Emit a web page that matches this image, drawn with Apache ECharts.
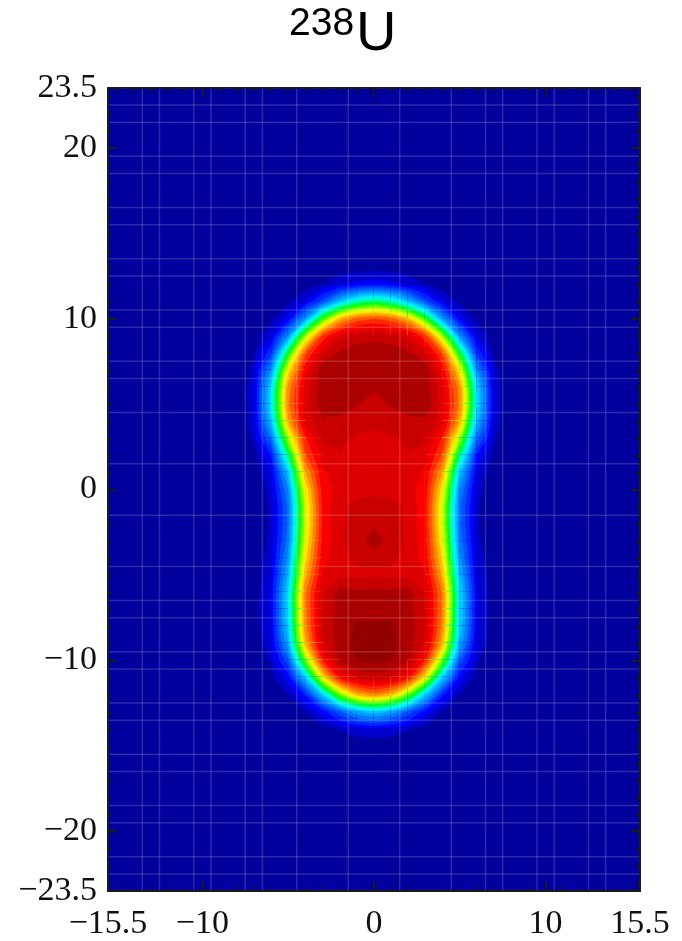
<!DOCTYPE html>
<html>
<head>
<meta charset="utf-8">
<title>238U density</title>
<script src="https://cdn.jsdelivr.net/npm/echarts@6/dist/echarts.min.js"></script>
<style>
  html, body { margin: 0; padding: 0; background: #ffffff; }
  #chart { width: 682px; height: 941px; }
</style>
</head>
<body>
<div id="chart"></div>
<script>
// Density grid (units of 0.01 fm^-3) on a 1 fm mesh. The shape is
// mirror-symmetric in x, so only the columns x >= 0 are tabulated.
const xNodes = [0, 1, 2, 3, 4, 5, 6, 7, 8, 9];
const yNodes = [14, 13, 12, 11, 10, 9, 8, 7, 6, 5, 4, 3, 2, 1, 0, -1, -2, -3, -4, -5,
                -6, -7, -8, -9, -10, -11, -12, -13, -14, -15, -16];
const density = [
  [0.02, 0.02, 0.01, 0, 0, 0, 0, 0, 0, 0],
  [0.15, 0.14, 0.10, 0.05, 0.02, 0, 0, 0, 0, 0],
  [1.3, 1.15, 0.8, 0.42, 0.16, 0.05, 0, 0, 0, 0],
  [7.2, 6.5, 4.7, 2.5, 0.95, 0.28, 0.06, 0.01, 0, 0],
  [13.4, 13.0, 11.5, 8.3, 4.0, 1.2, 0.26, 0.04, 0, 0],
  [16.2, 16.0, 15.4, 13.6, 9.4, 3.8, 0.85, 0.12, 0.01, 0],
  [17.0, 17.0, 16.6, 15.6, 13.2, 7.7, 2.0, 0.3, 0.03, 0],
  [17.0, 17.1, 17.1, 17.0, 14.7, 10.7, 3.8, 0.55, 0.05, 0],
  [16.7, 17.0, 17.2, 16.9, 15.2, 12.2, 5.2, 0.7, 0.06, 0],
  [16.0, 16.55, 16.9, 17.1, 15.3, 12.5, 5.4, 0.7, 0.05, 0],
  [16.0, 16.2, 16.3, 16.3, 15.3, 11.8, 4.7, 0.65, 0.05, 0],
  [15.5, 15.6, 15.9, 15.9, 14.1, 9.6, 3.2, 0.5, 0.04, 0],
  [15.4, 15.5, 15.7, 15.25, 13.3, 7.0, 1.5, 0.22, 0.03, 0],
  [15.4, 15.4, 15.45, 14.8, 11.8, 4.8, 0.85, 0.13, 0.02, 0],
  [15.5, 15.4, 15.3, 14.5, 10.6, 3.6, 0.6, 0.09, 0.01, 0],
  [16.1, 16.0, 15.6, 14.3, 9.95, 3.05, 0.5, 0.07, 0, 0],
  [16.3, 16.0, 15.6, 14.3, 9.95, 3.05, 0.5, 0.07, 0, 0],
  [16.9, 16.1, 15.6, 14.4, 10.3, 3.3, 0.55, 0.08, 0, 0],
  [16.0, 15.9, 15.5, 14.6, 10.95, 3.85, 0.66, 0.1, 0, 0],
  [15.6, 15.6, 15.5, 15.0, 11.6, 4.5, 0.8, 0.12, 0.02, 0],
  [16.7, 16.65, 16.8, 15.6, 12.5, 5.2, 1.0, 0.14, 0.02, 0],
  [16.8, 17.0, 16.8, 15.7, 12.5, 5.2, 1.0, 0.14, 0.02, 0],
  [17.4, 17.35, 16.9, 15.8, 12.3, 5.0, 0.92, 0.13, 0.02, 0],
  [17.6, 17.4, 16.9, 15.6, 11.6, 4.3, 0.78, 0.11, 0.02, 0],
  [17.5, 17.3, 16.6, 14.1, 9.0, 2.7, 0.5, 0.07, 0, 0],
  [16.15, 15.8, 14.4, 10.75, 4.96, 1.26, 0.24, 0.04, 0, 0],
  [12.45, 11.6, 9.0, 4.96, 1.7, 0.43, 0.09, 0.02, 0, 0],
  [4.96, 4.3, 2.74, 1.26, 0.43, 0.11, 0.03, 0, 0, 0],
  [0.85, 0.75, 0.48, 0.23, 0.08, 0.03, 0, 0, 0, 0],
  [0.1, 0.09, 0.06, 0.03, 0.01, 0, 0, 0, 0, 0],
  [0.01, 0.01, 0, 0, 0, 0, 0, 0, 0, 0]
];

// Contour levels and the fill colour of each band (band 0 = below the first level).
const levels = [0.45, 1.0, 1.6, 2.3, 3.0, 3.75, 4.5, 5.25, 6.0, 6.75, 7.5, 8.25,
                9.0, 9.75, 10.5, 11.25, 12.0, 12.75, 13.5, 14.25, 15.0, 15.75, 16.5, 17.25];
const bandColors = ['#00009c', '#0000cc', '#0000ff', '#0028ff', '#0050ff', '#0078ff',
                    '#00a0ff', '#00c8ff', '#00f0ff', '#00ffc0', '#00ff70', '#00ff20',
                    '#40ff00', '#90ff00', '#d8ff00', '#ffe800', '#ffb800', '#ff8800',
                    '#ff5800', '#ff2800', '#f80000', '#de0000', '#c80000', '#aa0000', '#920000'];

// Axis ranges, labelled ticks and faint mesh lines.
const xRange = [-15.5, 15.5];
const yRange = [-23.5, 23.5];
const xLabelValues = [-15.5, -10, 0, 10, 15.5];
const yLabelValues = [-23.5, -20, -10, 0, 10, 20, 23.5];
const xMajorTicks = [-10, 0, 10];
const yMajorTicks = [-20, -10, 0, 10, 20];
const xMinorTicks = [-15, -14, -13, -12, -11, -10, -9, -8, -7, -6, -5, -4, -3, -2, -1, 0,
                     1, 2, 3, 4, 5, 6, 7, 8, 9, 10, 11, 12, 13, 14, 15];
const yMinorTicks = [-23, -22, -21, -20, -19, -18, -17, -16, -15, -14, -13, -12, -11, -10,
                     -9, -8, -7, -6, -5, -4, -3, -2, -1, 0, 1, 2, 3, 4, 5, 6, 7, 8, 9, 10,
                     11, 12, 13, 14, 15, 16, 17, 18, 19, 20, 21, 22, 23];
const xMeshLines = [-13.5, -12.5, -10.5, -9.5, -7.5, -6.5, -4.5, -1.5,
                    1.5, 4.5, 6.5, 7.5, 9.5, 10.5, 12.5, 13.5];
const yMeshLines = [-22.5, -21.5, -19.5, -18.5, -16.5, -15.5, -13.5, -12.5, -10.5, -9.5,
                    -7.5, -6.5, -4.5, -1.5, 1.5, 4.5, 6.5, 7.5, 9.5, 10.5, 12.5, 13.5,
                    15.5, 16.5, 18.5, 19.5, 21.5, 22.5];

// Full mesh in x, mirrored from the tabulated half.
const fullX = xNodes.slice(1).reverse().map(v => -v).concat(xNodes);
function nodeValue(ix, iy) {
  return density[iy][xNodes.indexOf(Math.abs(fullX[ix]))];
}
function bandOf(v) {
  let b = 0;
  while (b < levels.length && v >= levels[b]) b++;
  return b;
}

// One data item per mesh cell: [x left, y bottom, column index, row index].
const cells = [];
for (let iy = 0; iy < yNodes.length - 1; iy++) {
  for (let ix = 0; ix < fullX.length - 1; ix++) {
    cells.push([fullX[ix], yNodes[iy + 1], ix, iy]);
  }
}

function polygon(points, color) {
  return {
    type: 'polygon',
    silent: true,
    shape: { points: points },
    style: { fill: color, stroke: color, lineWidth: 0.8 }
  };
}

// Filled contour bands inside a cell, with the level crossings placed
// linearly along the cell edges.
function renderCell(params, api) {
  const ix = api.value(2), iy = api.value(3);
  const xa = fullX[ix], xb = fullX[ix + 1], yt = yNodes[iy], yb = yNodes[iy + 1];
  const corners = [[xa, yt], [xb, yt], [xb, yb], [xa, yb]];
  const vals = [nodeValue(ix, iy), nodeValue(ix + 1, iy), nodeValue(ix + 1, iy + 1), nodeValue(ix, iy + 1)];
  const bMin = bandOf(Math.min.apply(null, vals));
  const bMax = bandOf(Math.max.apply(null, vals));
  const children = [];
  if (bMax === 0) return { type: 'group', children: children };
  if (bMin > 0) children.push(polygon(corners.map(c => api.coord(c)), bandColors[bMin]));
  for (let b = bMin + 1; b <= bMax; b++) {
    const t = levels[b - 1];
    const pts = [];
    for (let k = 0; k < 4; k++) {
      const k2 = (k + 1) % 4;
      const a = vals[k], c = vals[k2];
      if (a >= t) pts.push(corners[k]);
      if ((a >= t) !== (c >= t)) {
        const f = (t - a) / (c - a);
        pts.push([corners[k][0] + f * (corners[k2][0] - corners[k][0]),
                  corners[k][1] + f * (corners[k2][1] - corners[k][1])]);
      }
    }
    if (pts.length >= 3) children.push(polygon(pts.map(p => api.coord(p)), bandColors[b]));
  }
  return { type: 'group', children: children };
}

const meshStyle = { stroke: 'rgba(255,255,255,0.16)', lineWidth: 1.5 };

function renderVerticalMesh(params, api) {
  const v = api.value(0);
  const p1 = api.coord([v, yRange[0]]), p2 = api.coord([v, yRange[1]]);
  return { type: 'line', silent: true, shape: { x1: p1[0], y1: p1[1], x2: p2[0], y2: p2[1] }, style: meshStyle };
}
function renderHorizontalMesh(params, api) {
  const v = api.value(1);
  const p1 = api.coord([xRange[0], v]), p2 = api.coord([xRange[1], v]);
  return { type: 'line', silent: true, shape: { x1: p1[0], y1: p1[1], x2: p2[0], y2: p2[1] }, style: meshStyle };
}

const minusSign = v => (v < 0 ? '\u2212' + Math.abs(v) : String(v));
const frameColor = '#1a1a1a';
const labelFont = { fontFamily: '"Liberation Serif", "Times New Roman", serif', fontSize: 34, color: '#111111' };
const gridRect = { left: 108, right: 42, top: 88, bottom: 49 };

function majorAxis(gridIndex, position, range, ticks, labels, extraLabel) {
  return {
    type: 'value', gridIndex: gridIndex, position: position, min: range[0], max: range[1], z: 10,
    axisLine: { show: true, onZero: false, lineStyle: { color: frameColor, width: 2 } },
    axisTick: { show: true, inside: true, length: 9, customValues: ticks, lineStyle: { color: frameColor, width: 2 } },
    axisLabel: labels
      ? Object.assign({ show: true, customValues: labels, formatter: minusSign }, labelFont, extraLabel)
      : { show: false },
    splitLine: { show: false }
  };
}
function minorAxis(gridIndex, position, range, ticks) {
  return {
    type: 'value', gridIndex: gridIndex, position: position, min: range[0], max: range[1], z: 10,
    axisLine: { show: false, onZero: false },
    axisTick: { show: true, inside: true, length: 4, customValues: ticks, lineStyle: { color: frameColor, width: 1.5 } },
    axisLabel: { show: false },
    splitLine: { show: false }
  };
}

const chart = echarts.init(document.getElementById('chart'), null, { renderer: 'canvas' });
chart.setOption({
  animation: false,
  backgroundColor: '#ffffff',
  graphic: [
    { type: 'text', x: 289, y: 24, style: { text: '238', font: '39px "Liberation Sans"', fill: '#000', align: 'left', verticalAlign: 'middle' } },
    { type: 'text', x: 356, y: 35, style: { text: 'U', font: '56px "Liberation Sans"', fill: '#000', align: 'left', verticalAlign: 'middle' } }
  ],
  grid: [
    Object.assign({ show: true, backgroundColor: bandColors[0], borderWidth: 0, containLabel: false }, gridRect),
    Object.assign({ show: false, containLabel: false }, gridRect)
  ],
  xAxis: [
    majorAxis(0, 'bottom', xRange, xMajorTicks, xLabelValues, { margin: 16 }),
    majorAxis(0, 'top', xRange, xMajorTicks, null),
    minorAxis(1, 'bottom', xRange, xMinorTicks),
    minorAxis(1, 'top', xRange, xMinorTicks)
  ],
  yAxis: [
    majorAxis(0, 'left', yRange, yMajorTicks, yLabelValues, { margin: 11, padding: [6, 0, 0, 0] }),
    majorAxis(0, 'right', yRange, yMajorTicks, null),
    minorAxis(1, 'left', yRange, yMinorTicks),
    minorAxis(1, 'right', yRange, yMinorTicks)
  ],
  series: [
    {
      type: 'custom', name: 'density', xAxisIndex: 0, yAxisIndex: 0, z: 2, clip: true, silent: true,
      renderItem: renderCell, data: cells
    },
    {
      type: 'custom', name: 'mesh x', xAxisIndex: 0, yAxisIndex: 0, z: 3, clip: true, silent: true,
      renderItem: renderVerticalMesh, data: xMeshLines.map(v => [v, 0])
    },
    {
      type: 'custom', name: 'mesh y', xAxisIndex: 0, yAxisIndex: 0, z: 3, clip: true, silent: true,
      renderItem: renderHorizontalMesh, data: yMeshLines.map(v => [0, v])
    }
  ]
});
</script>
</body>
</html>
